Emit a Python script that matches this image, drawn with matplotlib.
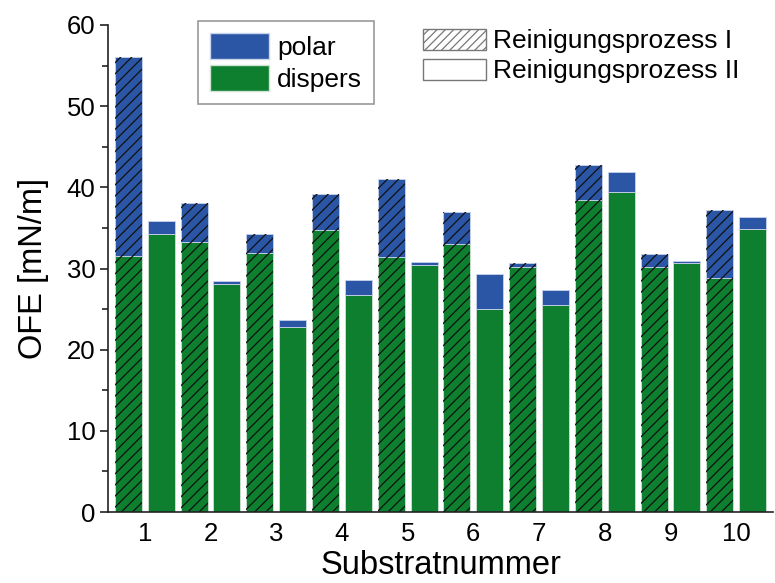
import matplotlib
matplotlib.use('Agg')
import matplotlib.pyplot as plt
from matplotlib.patches import Patch
import numpy as np

# OFE components per substrate
substrates = [1, 2, 3, 4, 5, 6, 7, 8, 9, 10]

# Reinigungsprozess I (hatched)
disp_I = [31.6, 33.3, 31.9, 34.7, 31.4, 33.0, 30.2, 38.4, 30.2, 28.8]
polar_I = [24.4, 4.8, 2.3, 4.5, 9.6, 3.9, 0.5, 4.4, 1.6, 8.4]

# Reinigungsprozess II (plain)
disp_II = [34.2, 28.1, 22.8, 26.7, 30.4, 25.0, 25.5, 39.4, 30.7, 34.9]
polar_II = [1.6, 0.3, 0.8, 1.9, 0.4, 4.3, 1.8, 2.5, 0.2, 1.4]

blue = '#2b56a6'
green = '#0d7f2f'

plt.rcParams['font.family'] = ['Liberation Sans', 'DejaVu Sans']
plt.rcParams['hatch.linewidth'] = 0.9
plt.rcParams['hatch.color'] = 'black'

fig = plt.figure(figsize=(7.75, 5.83), dpi=100)
ax = fig.add_axes([108/775, 71/583, 665/775, 487/583])

x = np.array(substrates, dtype=float)
w = 0.41
off = 0.25

# process I, hatched
ax.bar(x - off, disp_I, w, color=green, edgecolor='#cfe3d3', linewidth=0.6)
ax.bar(x - off, polar_I, w, bottom=disp_I, color=blue, edgecolor='#c9d3ea', linewidth=0.6)
tot_I = np.array(disp_I) + np.array(polar_I)
ax.bar(x - off, tot_I, w, color='none', edgecolor='#111111', linewidth=0, hatch='///')

# process II
ax.bar(x + off, disp_II, w, color=green, edgecolor='#cfe3d3', linewidth=0.6)
ax.bar(x + off, polar_II, w, bottom=disp_II, color=blue, edgecolor='#c9d3ea', linewidth=0.6)

ax.set_xlim(0.44, 10.56)
ax.set_ylim(0, 60)
ax.set_xticks(x)
ax.set_xticklabels([str(s) for s in substrates])
ax.set_yticks(np.arange(0, 61, 10))
ax.set_yticks(np.arange(5, 60, 10), minor=True)

for side in ['top', 'right']:
    ax.spines[side].set_visible(False)
for side in ['left', 'bottom']:
    ax.spines[side].set_linewidth(1.2)
    ax.spines[side].set_color('#222222')

ax.tick_params(axis='y', which='major', length=6, width=1.2, labelsize=18.5, pad=3, color='#222222')
ax.tick_params(axis='y', which='minor', length=4, width=1.2, color='#222222')
ax.tick_params(axis='x', length=0, labelsize=18.5, pad=7)

ax.set_ylabel('OFE [mN/m]', fontsize=23.5, labelpad=13)
ax.set_xlabel('Substratnummer', fontsize=23.5, labelpad=3)

# legend for components
h1 = [Patch(facecolor=blue, edgecolor='#c9d3ea'), Patch(facecolor=green, edgecolor='#cfe3d3')]
leg1 = fig.legend(h1, ['polar', 'dispers'], loc='upper left',
                  bbox_to_anchor=(198/775, 1 - 21/583), fontsize=19,
                  handlelength=2.25, handleheight=1.15, handletextpad=0.3,
                  labelspacing=0.18, borderpad=0.45, borderaxespad=0,
                  frameon=True, fancybox=False, edgecolor='#999999', framealpha=1)
leg1.get_frame().set_linewidth(1.2)

# legend for cleaning process
h2 = [Patch(facecolor='white', edgecolor='#777777', hatch='////'),
      Patch(facecolor='white', edgecolor='#777777')]
leg2 = fig.legend(h2, ['Reinigungsprozess I', 'Reinigungsprozess II'], loc='upper left',
                  bbox_to_anchor=(420/775, 1 - 26/583), fontsize=19,
                  handlelength=2.4, handleheight=0.85, handletextpad=0.25,
                  labelspacing=0.2, borderpad=0.1, borderaxespad=0,
                  frameon=False)

fig.savefig('out.png', dpi=100)
